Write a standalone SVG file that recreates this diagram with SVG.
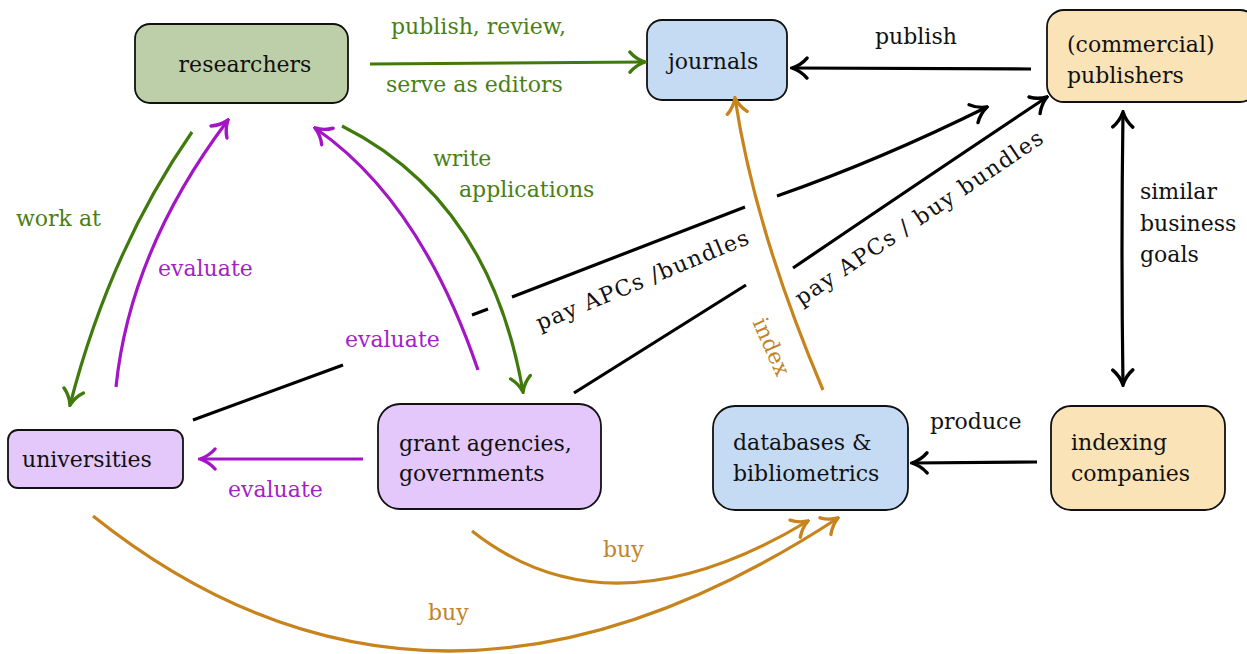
<svg xmlns="http://www.w3.org/2000/svg" width="1247" height="654" viewBox="0 0 1247 654" font-family="'DejaVu Serif', 'Liberation Serif', serif" font-size="22">
<style>
text{font-family:"DejaVu Serif","Liberation Serif",serif;font-size:22px;fill:#111}
.box{stroke:#111;stroke-width:1.8}
.c{fill:none;stroke-width:3.2}
.g{stroke:#417a0c}.gt{fill:#4a7f14}
.p{stroke:#a216c6}.pt{fill:#a51fc8}
.o{stroke:#c8841c}.ot{fill:#c0842a}
.k{stroke:#000}
</style>
<defs>
<marker id="ag" viewBox="-17 -12 19 24" refX="0" refY="0" markerWidth="19" markerHeight="24" markerUnits="userSpaceOnUse" orient="auto"><path d="M-15,-10 C-9,-3 -3,-1 0,0 C-3,1 -9,3 -15,10" fill="none" stroke="#417a0c" stroke-width="3.4" stroke-linecap="round"/></marker>
<marker id="ap" viewBox="-17 -12 19 24" refX="0" refY="0" markerWidth="19" markerHeight="24" markerUnits="userSpaceOnUse" orient="auto"><path d="M-15,-10 C-9,-3 -3,-1 0,0 C-3,1 -9,3 -15,10" fill="none" stroke="#a216c6" stroke-width="3.4" stroke-linecap="round"/></marker>
<marker id="ao" viewBox="-17 -12 19 24" refX="0" refY="0" markerWidth="19" markerHeight="24" markerUnits="userSpaceOnUse" orient="auto"><path d="M-15,-10 C-9,-3 -3,-1 0,0 C-3,1 -9,3 -15,10" fill="none" stroke="#c8841c" stroke-width="3.4" stroke-linecap="round"/></marker>
<marker id="ak" viewBox="-17 -12 19 24" refX="0" refY="0" markerWidth="19" markerHeight="24" markerUnits="userSpaceOnUse" orient="auto"><path d="M-15,-10 C-9,-3 -3,-1 0,0 C-3,1 -9,3 -15,10" fill="none" stroke="#000" stroke-width="3.4" stroke-linecap="round"/></marker>
<marker id="aks" viewBox="-17 -12 19 24" refX="0" refY="0" markerWidth="19" markerHeight="24" markerUnits="userSpaceOnUse" orient="auto-start-reverse"><path d="M-15,-10 C-9,-3 -3,-1 0,0 C-3,1 -9,3 -15,10" fill="none" stroke="#000" stroke-width="3.4" stroke-linecap="round"/></marker>
</defs>

<g id="researchers"><rect class="box" x="135" y="24" width="213" height="79" rx="15" fill="#bccfa8"/><text x="245" y="72" text-anchor="middle">researchers</text></g>
<g id="journals"><rect class="box" x="647" y="20" width="140" height="80" rx="15" fill="#c5dbf4"/><text x="668" y="69">journals</text></g>
<g id="publishers"><rect class="box" x="1047" y="10" width="210" height="92" rx="17" fill="#fbe3b8"/><text x="1067" y="52">(commercial)</text><text x="1067" y="83">publishers</text></g>
<g id="universities"><rect class="box" x="8" y="430" width="175" height="58" rx="10" fill="#e4c8fc"/><text x="22" y="467">universities</text></g>
<g id="grant"><rect class="box" x="378" y="404" width="223" height="105" rx="22" fill="#e4c8fc"/><text x="399" y="451">grant agencies,</text><text x="399" y="481">governments</text></g>
<g id="databases"><rect class="box" x="713" y="406" width="195" height="104" rx="22" fill="#c5dbf4"/><text x="733" y="450">databases &amp;</text><text x="733" y="481">bibliometrics</text></g>
<g id="indexing"><rect class="box" x="1051" y="406" width="174" height="104" rx="20" fill="#fbe3b8"/><text x="1071" y="450">indexing</text><text x="1071" y="481">companies</text></g>

<g id="connectors">
<path class="c g" d="M370,64 L645,62" marker-end="url(#ag)"/>
<path class="c k" d="M1031,69 L792,68" marker-end="url(#ak)"/>
<path class="c g" d="M192,132 Q110,250 70,405" marker-end="url(#ag)"/>
<path class="c p" d="M116,387 Q130,250 228,120" marker-end="url(#ap)"/>
<path class="c g" d="M342,126 Q490,200 523,392" marker-end="url(#ag)"/>
<path class="c p" d="M478,370 Q420,200 315,128" marker-end="url(#ap)"/>
<path class="c k" d="M193,420 L343,365 M472,315 L488,309 M512,297 L745,207"/>
<path class="c k" d="M777,196 Q880,160 987,107" marker-end="url(#ak)"/>
<path class="c k" d="M574,393 L746,285"/>
<path class="c k" d="M793,268 Q930,175 1047,97" marker-end="url(#ak)"/>
<path class="c o" d="M823,390 Q755,230 735,98" marker-end="url(#ao)"/>
<path class="c k" d="M1123,112 Q1121,250 1123,385" marker-start="url(#aks)" marker-end="url(#aks)"/>
<path class="c k" d="M1037,462 L912,463" marker-end="url(#ak)"/>
<path class="c p" d="M363,459 L200,459" marker-end="url(#ap)"/>
<path class="c o" d="M472,531 Q610,640 808,521" marker-end="url(#ao)"/>
<path class="c o" d="M93,516 Q430,785 838,518" marker-end="url(#ao)"/>

<text class="gt" x="391" y="34">publish, review,</text>
<text class="gt" x="386" y="92">serve as editors</text>
<text x="875" y="44">publish</text>
<text class="gt" x="16" y="226">work at</text>
<text class="pt" x="158" y="276">evaluate</text>
<text class="gt" x="433" y="166">write</text>
<text class="gt" x="459" y="197">applications</text>
<text class="pt" x="345" y="347">evaluate</text>
<text class="pt" x="228" y="497">evaluate</text>
<text x="645" y="287" text-anchor="middle" textLength="228" lengthAdjust="spacing" transform="rotate(-22.5 645 287)">pay APCs /bundles</text>
<text x="923" y="224" text-anchor="middle" textLength="294" lengthAdjust="spacing" transform="rotate(-34 923 224)">pay APCs / buy bundles</text>
<text class="ot" x="771" y="347" text-anchor="middle" transform="rotate(66 771 347) translate(0 7)">index</text>
<text x="1140" y="199">similar</text>
<text x="1140" y="231">business</text>
<text x="1140" y="262">goals</text>
<text x="930" y="429">produce</text>
<text class="ot" x="603" y="557">buy</text>
<text class="ot" x="428" y="620">buy</text>
</g>
</svg>
